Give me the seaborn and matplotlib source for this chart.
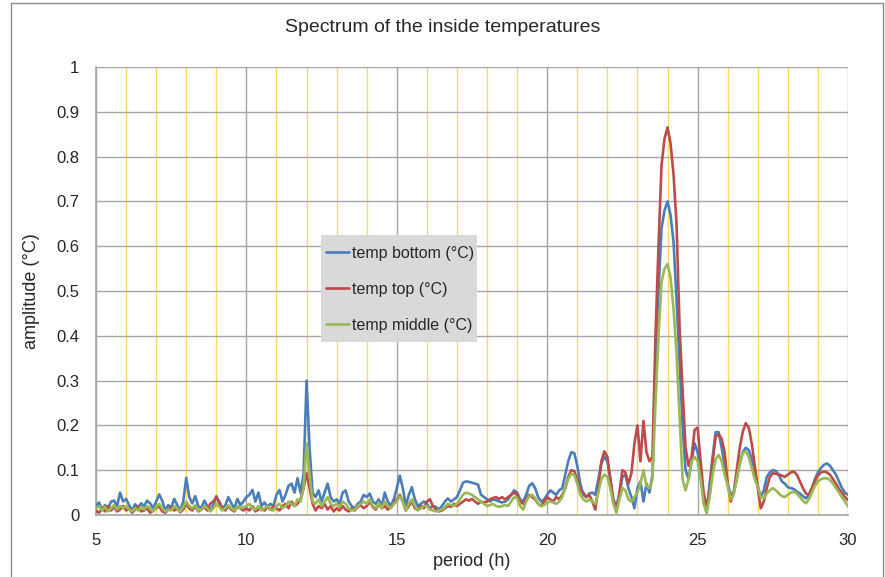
import numpy as np
import pandas as pd
import matplotlib
matplotlib.use("Agg")
import matplotlib.pyplot as plt
import seaborn as sns
from matplotlib.patches import Rectangle
from matplotlib.ticker import MultipleLocator

title = "Spectrum of the inside temperatures"
xlabel = "period (h)"
ylabel = "amplitude (°C)"
series_names = ["temp bottom (°C)", "temp top (°C)", "temp middle (°C)"]

# period values (h), 5.0 .. 30.0 in 0.1 h steps
period = [round(5.0 + 0.1 * i, 1) for i in range(251)]

temp_bottom = [
    0.020, 0.028, 0.012, 0.022, 0.015, 0.030, 0.032, 0.020, 0.050, 0.030,
    0.036, 0.022, 0.010, 0.024, 0.016, 0.026, 0.020, 0.032, 0.026, 0.015,
    0.030, 0.046, 0.032, 0.010, 0.022, 0.016, 0.036, 0.022, 0.010, 0.030,
    0.083, 0.040, 0.026, 0.042, 0.020, 0.015, 0.032, 0.020, 0.010, 0.022,
    0.042, 0.025, 0.015, 0.022, 0.040, 0.026, 0.015, 0.036, 0.022, 0.030,
    0.040, 0.045, 0.056, 0.030, 0.050, 0.020, 0.028, 0.018, 0.025, 0.020,
    0.045, 0.056, 0.030, 0.045, 0.065, 0.070, 0.050, 0.082, 0.050, 0.090,
    0.300, 0.150, 0.050, 0.040, 0.055, 0.030, 0.050, 0.070, 0.040, 0.030,
    0.035, 0.025, 0.050, 0.055, 0.030, 0.020, 0.015, 0.025, 0.030, 0.045,
    0.040, 0.048, 0.030, 0.025, 0.035, 0.020, 0.050, 0.030, 0.020, 0.035,
    0.060, 0.088, 0.060, 0.020, 0.045, 0.062, 0.035, 0.020, 0.025, 0.030,
    0.025, 0.015, 0.020, 0.018, 0.012, 0.020, 0.030, 0.037, 0.030, 0.035,
    0.040, 0.055, 0.072, 0.075, 0.074, 0.072, 0.070, 0.068, 0.045, 0.040,
    0.035, 0.030, 0.035, 0.033, 0.030, 0.028, 0.030, 0.035, 0.045, 0.055,
    0.050, 0.035, 0.030, 0.045, 0.065, 0.071, 0.060, 0.040, 0.030, 0.035,
    0.045, 0.055, 0.050, 0.045, 0.055, 0.060, 0.090, 0.120, 0.140, 0.138,
    0.110, 0.070, 0.045, 0.040, 0.048, 0.050, 0.045, 0.080, 0.115, 0.130,
    0.120, 0.080, 0.035, 0.020, 0.045, 0.085, 0.090, 0.060, 0.040, 0.015,
    0.060, 0.075, 0.030, 0.070, 0.050, 0.090, 0.350, 0.500, 0.640, 0.680,
    0.700, 0.670, 0.610, 0.480, 0.340, 0.200, 0.100, 0.080, 0.120, 0.160,
    0.140, 0.100, 0.030, 0.005, 0.070, 0.130, 0.185, 0.185, 0.150, 0.110,
    0.070, 0.045, 0.050, 0.080, 0.115, 0.140, 0.150, 0.145, 0.125, 0.100,
    0.065, 0.040, 0.055, 0.085, 0.095, 0.100, 0.098, 0.090, 0.075, 0.070,
    0.062, 0.060, 0.058, 0.052, 0.048, 0.042, 0.037, 0.045, 0.060, 0.080,
    0.095, 0.105, 0.112, 0.115, 0.110, 0.100, 0.090, 0.075, 0.060, 0.050,
    0.045,
]

temp_top = [
    0.010, 0.005, 0.015, 0.008, 0.020, 0.010, 0.018, 0.008, 0.012, 0.020,
    0.010, 0.015, 0.005, 0.012, 0.020, 0.008, 0.010, 0.015, 0.005, 0.010,
    0.015, 0.020, 0.008, 0.005, 0.012, 0.018, 0.010, 0.015, 0.006, 0.012,
    0.025, 0.015, 0.010, 0.020, 0.008, 0.012, 0.018, 0.010, 0.025, 0.030,
    0.040, 0.030, 0.015, 0.010, 0.020, 0.012, 0.008, 0.018, 0.015, 0.010,
    0.015, 0.010, 0.020, 0.008, 0.012, 0.015, 0.010, 0.018, 0.012, 0.020,
    0.015, 0.010, 0.020, 0.025, 0.015, 0.030, 0.020, 0.025, 0.035, 0.060,
    0.093, 0.060, 0.025, 0.010, 0.020, 0.015, 0.025, 0.012, 0.020, 0.008,
    0.015, 0.010, 0.020, 0.012, 0.008, 0.015, 0.010, 0.018, 0.022, 0.015,
    0.020, 0.030, 0.018, 0.012, 0.025, 0.015, 0.020, 0.012, 0.018, 0.025,
    0.035, 0.045, 0.030, 0.010, 0.020, 0.030, 0.015, 0.012, 0.020, 0.015,
    0.030, 0.035, 0.020, 0.012, 0.008, 0.010, 0.015, 0.020, 0.018, 0.025,
    0.020, 0.025, 0.030, 0.035, 0.032, 0.036, 0.030, 0.025, 0.030, 0.028,
    0.030, 0.035, 0.038, 0.040, 0.036, 0.040, 0.035, 0.040, 0.045, 0.050,
    0.045, 0.030, 0.025, 0.035, 0.045, 0.040, 0.035, 0.025, 0.020, 0.030,
    0.040, 0.035, 0.030, 0.040, 0.035, 0.045, 0.060, 0.085, 0.100, 0.098,
    0.080, 0.055, 0.050, 0.040, 0.045, 0.030, 0.012, 0.060, 0.120, 0.142,
    0.130, 0.080, 0.030, 0.010, 0.050, 0.100, 0.095, 0.070, 0.093, 0.160,
    0.200, 0.120, 0.210, 0.140, 0.120, 0.130, 0.400, 0.600, 0.780, 0.840,
    0.865, 0.830, 0.760, 0.650, 0.420, 0.280, 0.150, 0.110, 0.130, 0.190,
    0.195, 0.120, 0.050, 0.020, 0.050, 0.120, 0.175, 0.180, 0.170, 0.140,
    0.070, 0.030, 0.050, 0.100, 0.150, 0.185, 0.205, 0.195, 0.160, 0.110,
    0.060, 0.015, 0.030, 0.060, 0.085, 0.093, 0.092, 0.090, 0.088, 0.085,
    0.090, 0.095, 0.097, 0.090, 0.075, 0.060, 0.048, 0.045, 0.060, 0.075,
    0.088, 0.095, 0.097, 0.095, 0.090, 0.080, 0.070, 0.058, 0.050, 0.040,
    0.033,
]

temp_middle = [
    0.015, 0.020, 0.010, 0.018, 0.008, 0.015, 0.022, 0.012, 0.020, 0.015,
    0.020, 0.012, 0.008, 0.015, 0.010, 0.018, 0.012, 0.020, 0.015, 0.008,
    0.018, 0.025, 0.015, 0.008, 0.012, 0.010, 0.020, 0.015, 0.008, 0.018,
    0.030, 0.020, 0.015, 0.022, 0.010, 0.012, 0.020, 0.015, 0.008, 0.015,
    0.025, 0.018, 0.010, 0.015, 0.022, 0.015, 0.010, 0.020, 0.015, 0.018,
    0.020, 0.025, 0.015, 0.012, 0.020, 0.010, 0.015, 0.020, 0.012, 0.010,
    0.020, 0.025, 0.015, 0.020, 0.030, 0.025, 0.020, 0.035, 0.030, 0.060,
    0.160, 0.090, 0.030, 0.025, 0.035, 0.020, 0.030, 0.040, 0.025, 0.020,
    0.025, 0.018, 0.030, 0.025, 0.015, 0.010, 0.012, 0.020, 0.025, 0.030,
    0.025, 0.035, 0.020, 0.015, 0.028, 0.015, 0.030, 0.020, 0.015, 0.025,
    0.030, 0.042, 0.030, 0.010, 0.025, 0.035, 0.020, 0.010, 0.015, 0.020,
    0.020, 0.012, 0.010, 0.008, 0.010, 0.012, 0.018, 0.025, 0.022, 0.020,
    0.025, 0.035, 0.045, 0.050, 0.048, 0.045, 0.040, 0.035, 0.030, 0.025,
    0.020, 0.022, 0.025, 0.020, 0.018, 0.020, 0.022, 0.020, 0.030, 0.040,
    0.038, 0.020, 0.012, 0.030, 0.042, 0.045, 0.038, 0.025, 0.020, 0.022,
    0.028, 0.030, 0.028, 0.025, 0.030, 0.040, 0.060, 0.080, 0.092, 0.090,
    0.070, 0.045, 0.035, 0.030, 0.035, 0.030, 0.025, 0.050, 0.080, 0.090,
    0.085, 0.060, 0.025, 0.005, 0.035, 0.060, 0.055, 0.035, 0.030, 0.040,
    0.050, 0.070, 0.100, 0.065, 0.060, 0.080, 0.250, 0.400, 0.520, 0.550,
    0.560, 0.530, 0.460, 0.360, 0.220, 0.080, 0.055, 0.080, 0.120, 0.130,
    0.120, 0.080, 0.025, 0.005, 0.040, 0.090, 0.125, 0.134, 0.120, 0.090,
    0.065, 0.035, 0.045, 0.080, 0.115, 0.138, 0.142, 0.130, 0.105, 0.080,
    0.063, 0.040, 0.037, 0.048, 0.055, 0.060, 0.055, 0.048, 0.042, 0.040,
    0.045, 0.050, 0.052, 0.048, 0.040, 0.032, 0.026, 0.035, 0.050, 0.065,
    0.075, 0.080, 0.082, 0.082, 0.078, 0.070, 0.060, 0.050, 0.040, 0.030,
    0.019,
]

colors = ["#4a7ebb", "#be4b48", "#98b954"]

sns.set_style("white")
plt.rcParams["font.family"] = ["Liberation Sans", "DejaVu Sans"]

df = pd.DataFrame({
    "period": period * 3,
    "amplitude": temp_bottom + temp_top + temp_middle,
    "series": sum([[n] * len(period) for n in series_names], []),
})

W, H = 885, 577
L, R, T, B = 96, 848, 67, 515
fig = plt.figure(figsize=(W / 100, H / 100), dpi=100)
ax = fig.add_axes([L / W, 1 - B / H, (R - L) / W, (B - T) / H])

sns.lineplot(data=df, x="period", y="amplitude", hue="series",
             hue_order=series_names, palette=colors, linewidth=1.9,
             ax=ax, zorder=3, legend=True)

ax.set_xlim(5, 30)
ax.set_ylim(0, 1)
ax.xaxis.set_major_locator(MultipleLocator(5))
ax.xaxis.set_minor_locator(MultipleLocator(1))
ax.set_yticks(np.arange(0, 1.01, 0.1))
ax.set_yticklabels(["0"] + [f"{v:.1f}" for v in np.arange(0.1, 0.95, 0.1)] + ["1"])
ax.grid(which="minor", axis="x", color="#ffd966", linewidth=1.0, zorder=1)
ax.grid(which="major", axis="x", color="#a6a6a6", linewidth=1.0, zorder=1)
ax.grid(which="major", axis="y", color="#a6a6a6", linewidth=1.0, zorder=1)
ax.set_axisbelow(True)
ax.tick_params(which="major", length=5, color="#a6a6a6", labelsize=12)
ax.tick_params(axis="y", pad=7)
ax.tick_params(axis="x", pad=8)
ax.tick_params(which="minor", length=0)
for s in ["top", "right"]:
    ax.spines[s].set_visible(False)
for s in ["left", "bottom"]:
    ax.spines[s].set_color("#a6a6a6")
    ax.spines[s].set_linewidth(1.2)

ax.set_xlabel(xlabel, fontsize=13)
ax.set_ylabel(ylabel, fontsize=13)
ax.xaxis.set_label_coords(0.5, -(561 - B) / (B - T))
ax.yaxis.set_label_coords(-(L - 31) / (R - L), 0.5)
ax.xaxis.label.set_va("center")
ax.yaxis.label.set_va("center")
fig.text(0.5, 1 - 28 / H, title, ha="center", va="center", fontsize=14)

# legend box (grey background) and entries
bx0, bx1, by0, by1 = 321, 477, 235, 342
ax.add_patch(Rectangle(((bx0 - L) / (R - L), (B - by1) / (B - T)),
                       (bx1 - bx0) / (R - L), (by1 - by0) / (B - T),
                       transform=ax.transAxes, facecolor="#d9d9d9",
                       edgecolor="none", zorder=5))
leg = ax.legend(loc="upper left", bbox_to_anchor=((bx0 + 5 - L) / (R - L), (B - by0 - 11) / (B - T)),
                fontsize=11.5, frameon=False, handlelength=1.45,
                handletextpad=0.15, labelspacing=1.3, borderpad=0,
                borderaxespad=0)
leg.set_zorder(6)
for line in leg.get_lines():
    line.set_linewidth(1.9)

fig.patches.append(Rectangle((11 / W, -0.01), (883 - 11) / W, 1 - 3 / H + 0.01,
                             transform=fig.transFigure, fill=False,
                             edgecolor="#8c8c8c", linewidth=1.0))

fig.savefig("out.png", dpi=100)
